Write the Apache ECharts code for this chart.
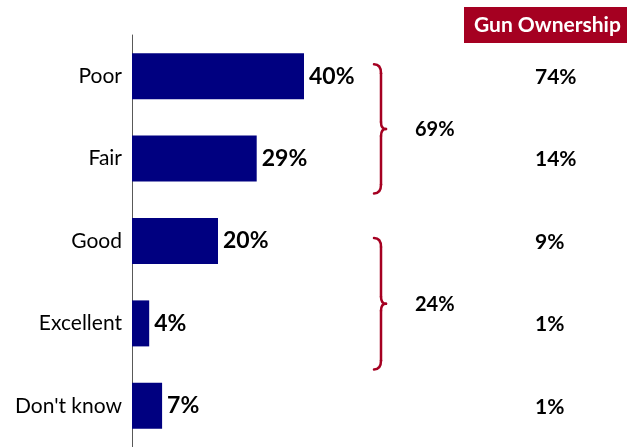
<!DOCTYPE html>
<html>
<head>
<meta charset="utf-8">
<script src="https://cdn.jsdelivr.net/npm/echarts@6/dist/echarts.min.js"></script>
<style>
  html, body { margin: 0; padding: 0; background: #fff; }
  #chart { width: 627px; height: 447px; }
</style>
</head>
<body>
<div id="chart"></div>
<script>
// Survey answers and the share of respondents giving each one
const categories = ['Poor', 'Fair', 'Good', 'Excellent', "Don't know"];
const shares = [40, 29, 20, 4, 7];
// Gun ownership share per answer (right column)
const ownership = [74, 14, 9, 1, 1];
// Grouped totals: [first category, last category, total]
const groups = [
  [0, 1, 69],
  [2, 3, 24]
];
// Extra reach of each brace above its first and below its last category (px)
const braceReach = [[-12, 35], [-3, 46]];

const FONT = 'Lato, "Open Sans", sans-serif';
const NAVY = '#000080';
const RED = '#a50021';

const chart = echarts.init(document.getElementById('chart'), null, { renderer: 'canvas' });

chart.setOption({
  animation: false,
  backgroundColor: '#ffffff',
  grid: { left: 132, top: 35, width: 430, height: 417, containLabel: false },
  xAxis: {
    type: 'value', min: 0, max: 100,
    show: false
  },
  yAxis: {
    type: 'category', data: categories, inverse: true,
    axisLine: { show: true, lineStyle: { color: '#595959', width: 1 } },
    axisTick: { show: false },
    axisLabel: { color: '#000', fontFamily: FONT, fontSize: 21, margin: 10 }
  },
  series: [{
    type: 'bar',
    data: shares,
    barWidth: 46,
    itemStyle: { color: NAVY },
    label: {
      show: true, position: 'right', distance: 5,
      formatter: p => p.value + '%',
      color: '#000', fontFamily: FONT, fontWeight: 'bold', fontSize: 23
    }
  }]
});

// Annotations placed from the category scale
function yOf(i) { return chart.convertToPixel({ yAxisIndex: 0 }, categories[i]); }

// Curly brace built from curve and line pieces
function brace(x0, top, bottom) {
  const mid = (top + bottom) / 2;
  const xv = x0 + 7, xt = x0 + 12;
  const st = { stroke: RED, lineWidth: 2.5, fill: null, lineCap: 'round' };
  return [
    { type: 'bezierCurve', shape: { x1: x0, y1: top, cpx1: xv, cpy1: top, x2: xv, y2: top + 9 }, style: st },
    { type: 'line', shape: { x1: xv, y1: top + 9, x2: xv, y2: mid - 7 }, style: st },
    { type: 'bezierCurve', shape: { x1: xv, y1: mid - 7, cpx1: xv, cpy1: mid, x2: xt, y2: mid }, style: st },
    { type: 'bezierCurve', shape: { x1: xt, y1: mid, cpx1: xv, cpy1: mid, x2: xv, y2: mid + 7 }, style: st },
    { type: 'line', shape: { x1: xv, y1: mid + 7, x2: xv, y2: bottom - 9 }, style: st },
    { type: 'bezierCurve', shape: { x1: xv, y1: bottom - 9, cpx1: xv, cpy1: bottom, x2: x0, y2: bottom }, style: st }
  ];
}

const elements = [];
groups.forEach((g, k) => {
  const top = yOf(g[0]) + braceReach[k][0];
  const bottom = yOf(g[1]) + braceReach[k][1];
  brace(374, top, bottom).forEach(e => elements.push(e));
  elements.push({
    type: 'text', x: 415, y: (top + bottom) / 2 + 1,
    style: { text: g[2] + '%', fill: '#000', font: 'bold 20px ' + FONT, textVerticalAlign: 'middle' }
  });
});

ownership.forEach((v, i) => {
  elements.push({
    type: 'text', x: 535, y: yOf(i) + 1,
    style: { text: v + '%', fill: '#000', font: 'bold 21px ' + FONT, textVerticalAlign: 'middle' }
  });
});

elements.push({
  type: 'rect', shape: { x: 464, y: 7, width: 170, height: 36 },
  style: { fill: RED }
});
elements.push({
  type: 'text', x: 474, y: 25,
  style: { text: 'Gun Ownership', fill: '#fff', font: 'bold 21px ' + FONT, textVerticalAlign: 'middle' }
});

chart.setOption({ graphic: { elements: elements } });
</script>
</body>
</html>
